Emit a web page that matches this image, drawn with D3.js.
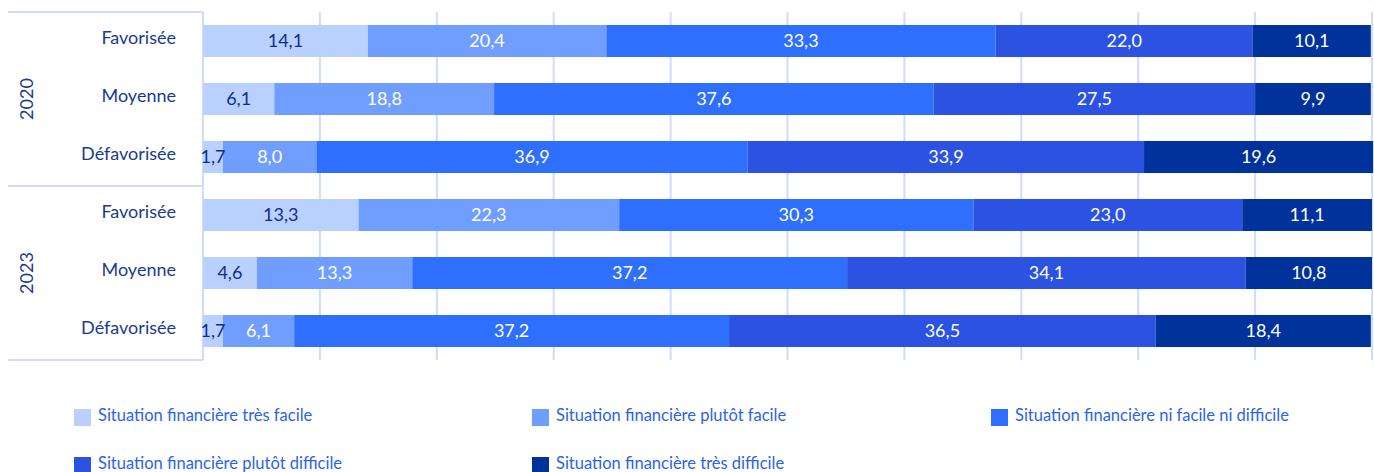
<!DOCTYPE html>
<html>
<head>
<meta charset="utf-8">
<script src="https://d3js.org/d3.v7.min.js"></script>
<style>
  body { margin: 0; background: #fff; }
  svg { display: block; font-family: Lato, "Open Sans", sans-serif; }
</style>
</head>
<body>
<svg id="chart" width="1374" height="472"></svg>
<script>
// data
var years = ["2020", "2023"]
var groups = ["Favorisée", "Moyenne", "Défavorisée"]
var series = [
  "Situation financière très facile",
  "Situation financière plutôt facile",
  "Situation financière ni facile ni difficile",
  "Situation financière plutôt difficile",
  "Situation financière très difficile"
]
var colors = ["#bad0ff", "#6f9eff", "#2e6ffe", "#2c52e1", "#00329b"]
var values2020 = [
  [14.1, 20.4, 33.3, 22.0, 10.1],
  [6.1, 18.8, 37.6, 27.5, 9.9],
  [1.7, 8.0, 36.9, 33.9, 19.6]
]
var values2023 = [
  [13.3, 22.3, 30.3, 23.0, 11.1],
  [4.6, 13.3, 37.2, 34.1, 10.8],
  [1.7, 6.1, 37.2, 36.5, 18.4]
]
var xTicks = [0, 10, 20, 30, 40, 50, 60, 70, 80, 90, 100]

var svg = d3.select("#chart")
var plotLeft = 203, plotRight = 1372, plotTop = 12, plotBottom = 360

var rows = []
years.forEach(function (y, yi) {
  var vals = yi == 0 ? values2020 : values2023
  groups.forEach(function (g, gi) {
    rows.push({ key: y + "-" + g, year: y, group: g, values: vals[gi] })
  })
})

var x = d3.scaleLinear().domain([0, 100]).range([plotLeft, plotRight])
var yScale = d3.scaleBand()
  .domain(rows.map(function (d) { return d.key }))
  .range([plotTop, plotBottom])
  .paddingInner(0.448)
  .paddingOuter(0.224)

// grid lines
svg.append("g").selectAll("line")
  .data(xTicks.slice(1))
  .enter().append("line")
  .attr("x1", function (d) { return x(d) }).attr("x2", function (d) { return x(d) })
  .attr("y1", plotTop).attr("y2", plotBottom)
  .attr("stroke", "#cfdcff").attr("stroke-width", 2)

// group frame lines
var frame = svg.append("g").attr("stroke", "#cfdcff").attr("stroke-width", 2)
frame.append("line").attr("x1", plotLeft).attr("x2", plotLeft).attr("y1", plotTop).attr("y2", plotBottom)
var groupH = (plotBottom - plotTop) / years.length
d3.range(years.length + 1).forEach(function (i) {
  frame.append("line")
    .attr("x1", 8).attr("x2", plotLeft)
    .attr("y1", plotTop + i * groupH).attr("y2", plotTop + i * groupH)
})

// bars
var stack = []
rows.forEach(function (r) {
  var acc = 0
  r.values.forEach(function (v, i) {
    stack.push({ row: r, i: i, x0: acc, x1: acc + v, v: v })
    acc += v
  })
})

var bars = svg.append("g")
bars.selectAll("rect")
  .data(stack)
  .enter().append("rect")
  .attr("x", function (d) { return x(d.x0) })
  .attr("width", function (d) { return x(d.x1) - x(d.x0) })
  .attr("y", function (d) { return yScale(d.row.key) })
  .attr("height", yScale.bandwidth())
  .attr("fill", function (d) { return colors[d.i] })

bars.selectAll("text")
  .data(stack)
  .enter().append("text")
  .attr("x", function (d) { return (x(d.x0) + x(d.x1)) / 2 })
  .attr("y", function (d) { return yScale(d.row.key) + yScale.bandwidth() / 2 })
  .attr("dy", "0.36em")
  .attr("text-anchor", "middle")
  .attr("font-size", 18)
  .attr("fill", function (d) { return d.i == 0 ? "#0d2f8c" : "#fff" })
  .text(function (d) { return d3.format(".1f")(d.v).replace(".", ",") })

// category labels
svg.append("g").selectAll("text")
  .data(rows)
  .enter().append("text")
  .attr("x", 176)
  .attr("y", function (d) { return yScale(d.key) + 13 })
  .attr("dy", "0.36em")
  .attr("text-anchor", "end")
  .attr("font-size", 18)
  .attr("fill", "#1a3a91")
  .text(function (d) { return d.group })

// year labels
svg.append("g").selectAll("text")
  .data(years)
  .enter().append("text")
  .attr("transform", function (d, i) {
    return "translate(27," + (plotTop + groupH * (i + 0.5)) + ") rotate(-90)"
  })
  .attr("dy", "0.36em")
  .attr("text-anchor", "middle")
  .attr("font-size", 18)
  .attr("fill", "#1a3a91")
  .text(function (d) { return d })

// legend
var legendPos = [[74, 409], [532, 409], [991, 409], [74, 457], [532, 457]]
var legend = svg.append("g").selectAll("g")
  .data(series)
  .enter().append("g")
  .attr("transform", function (d, i) { return "translate(" + legendPos[i][0] + "," + legendPos[i][1] + ")" })
legend.append("rect")
  .attr("x", 0).attr("y", 0).attr("width", 17).attr("height", 17)
  .attr("fill", function (d, i) { return colors[i] })
legend.append("text")
  .attr("x", 24).attr("y", 12)
  .attr("font-size", 16.5)
  .attr("fill", "#2c63ea")
  .text(function (d) { return d })
</script>
</body>
</html>
